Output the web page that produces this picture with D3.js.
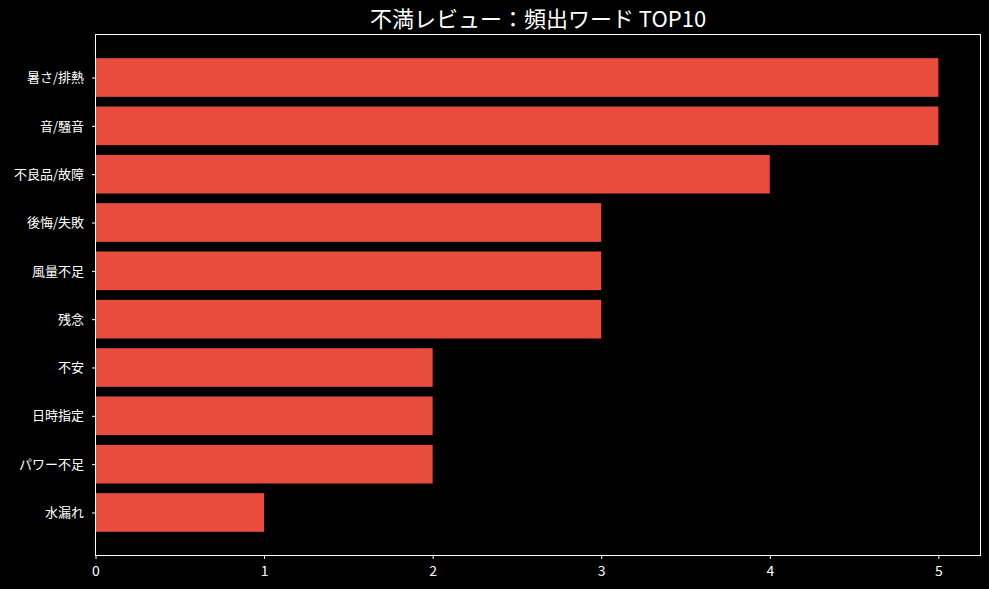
<!DOCTYPE html>
<html>
<head>
<meta charset="utf-8">
<script src="https://cdn.jsdelivr.net/npm/d3@7"></script>
<style>
  html, body { margin: 0; padding: 0; background: #000; }
  svg text { font-family: "Noto Sans CJK JP", "Noto Sans", sans-serif; }
</style>
</head>
<body>
<div id="chart"></div>
<script>
// data
var words = ["暑さ/排熱", "音/騒音", "不良品/故障", "後悔/失敗", "風量不足",
             "残念", "不安", "日時指定", "パワー不足", "水漏れ"];
var counts = [5, 5, 4, 3, 3, 3, 2, 2, 2, 1];
var xTicks = [0, 1, 2, 3, 4, 5];

var width = 989, height = 589;
var margin = {top: 34.5, right: 8.5, bottom: 33.5, left: 95.5};

var svg = d3.select("#chart").append("svg")
    .attr("width", width)
    .attr("height", height)
    .style("background", "#000");

var x = d3.scaleLinear()
    .domain([0, d3.max(counts) * 1.05])
    .range([margin.left, width - margin.right]);

// matplotlib-style barh: bars at integer positions, height 0.8, 5% margins
var pad = (words.length - 1 + 0.8) * 0.05;
var y = d3.scaleLinear()
    .domain([-0.4 - pad, words.length - 1 + 0.4 + pad])
    .range([margin.top, height - margin.bottom]);
var barH = y(0.4) - y(-0.4);

svg.append("g")
    .selectAll("rect")
    .data(counts)
    .enter().append("rect")
    .attr("x", x(0))
    .attr("y", function(d, i) { return y(i - 0.4); })
    .attr("width", function(d) { return x(d) - x(0); })
    .attr("height", barH)
    .attr("fill", "#e74c3c");

// frame
svg.append("rect")
    .attr("x", margin.left)
    .attr("y", margin.top)
    .attr("width", width - margin.right - margin.left)
    .attr("height", height - margin.bottom - margin.top)
    .attr("fill", "none")
    .attr("stroke", "#fff")
    .attr("stroke-width", 1);

var xAxis = svg.append("g")
    .attr("transform", "translate(0," + (height - margin.bottom) + ")")
    .call(d3.axisBottom(x).tickValues(xTicks).tickSize(3.5).tickPadding(7).tickFormat(d3.format("d")));

var yAxis = svg.append("g")
    .attr("transform", "translate(" + margin.left + ",0)")
    .call(d3.axisLeft(y).tickValues(d3.range(words.length)).tickSize(3.5).tickPadding(8)
        .tickFormat(function(i) { return words[i]; }));

[xAxis, yAxis].forEach(function(g) {
    g.select(".domain").remove();
    g.selectAll(".tick line").attr("stroke", "#fff");
    g.selectAll(".tick text")
        .attr("fill", "#fff")
        .style("font-size", "13px");
});
xAxis.selectAll(".tick text").style("font-size", "14px");

svg.append("text")
    .attr("x", (margin.left + width - margin.right) / 2)
    .attr("y", 27)
    .attr("text-anchor", "middle")
    .attr("fill", "#fff")
    .style("font-size", "22px")
    .text("不満レビュー：頻出ワード TOP10");
</script>
</body>
</html>
